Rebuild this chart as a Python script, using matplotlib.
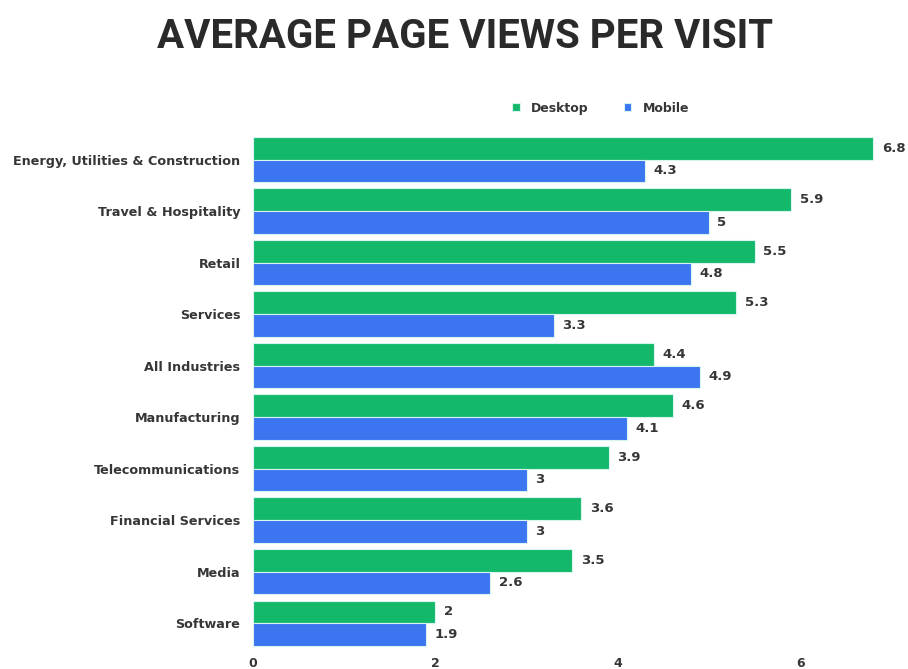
import numpy as np
import matplotlib
matplotlib.use("Agg")
import matplotlib.pyplot as plt

plt.rcParams['font.family'] = ['DejaVu Sans']

industries = [
    "Energy, Utilities & Construction",
    "Travel & Hospitality",
    "Retail",
    "Services",
    "All Industries",
    "Manufacturing",
    "Telecommunications",
    "Financial Services",
    "Media",
    "Software",
]
desktop = [6.8, 5.9, 5.5, 5.3, 4.4, 4.6, 3.9, 3.6, 3.5, 2.0]
mobile = [4.3, 5.0, 4.8, 3.3, 4.9, 4.1, 3.0, 3.0, 2.6, 1.9]

green = "#14b86a"
blue = "#3b76f0"
text_col = "#363636"

fig = plt.figure(figsize=(9.08, 6.69), dpi=100)
ax = fig.add_axes([0.2786, 0.030, 0.7214, 0.770])

y = np.arange(len(industries))
h = 0.44
b1 = ax.barh(y - h / 2, desktop, height=h, color=green, edgecolor="#d8f4f2",
             linewidth=0.8, label="Desktop")
b2 = ax.barh(y + h / 2, mobile, height=h, color=blue, edgecolor="#d8f4f2",
             linewidth=0.8, label="Mobile")

for bars, vals in ((b1, desktop), (b2, mobile)):
    ax.bar_label(bars, labels=[f"{v:g}" for v in vals], padding=6,
                 fontsize=9.5, fontweight="bold", color=text_col)

ax.set_ylim(len(industries) - 0.5, -0.5)
ax.set_xlim(0, 7.18)
ax.set_yticks(y)
ax.set_yticklabels(industries, fontsize=9.2, fontweight="bold", color=text_col)
ax.set_xticks([0, 2, 4, 6])
ax.tick_params(axis="both", length=0)
ax.tick_params(axis="y", pad=9)
ax.tick_params(axis="x", pad=6, labelsize=9, labelcolor=text_col)
for lbl in ax.get_xticklabels():
    lbl.set_fontweight("bold")
for s in ax.spines.values():
    s.set_visible(False)

leg = ax.legend(loc="center", bbox_to_anchor=(0.531, 1.050), ncol=2, frameon=False,
                handlelength=0.6, handleheight=0.6, columnspacing=2.8,
                handletextpad=0.9, prop={"weight": "bold", "size": 9})
for t in leg.get_texts():
    t.set_color(text_col)

fig.text(0.512, 0.944, "AVERAGE PAGE VIEWS PER VISIT", ha="center", va="center",
         fontsize=29, fontweight="bold", color="#2a2a2a", family="Roboto")

fig.savefig("out.png", dpi=100, facecolor="white")
